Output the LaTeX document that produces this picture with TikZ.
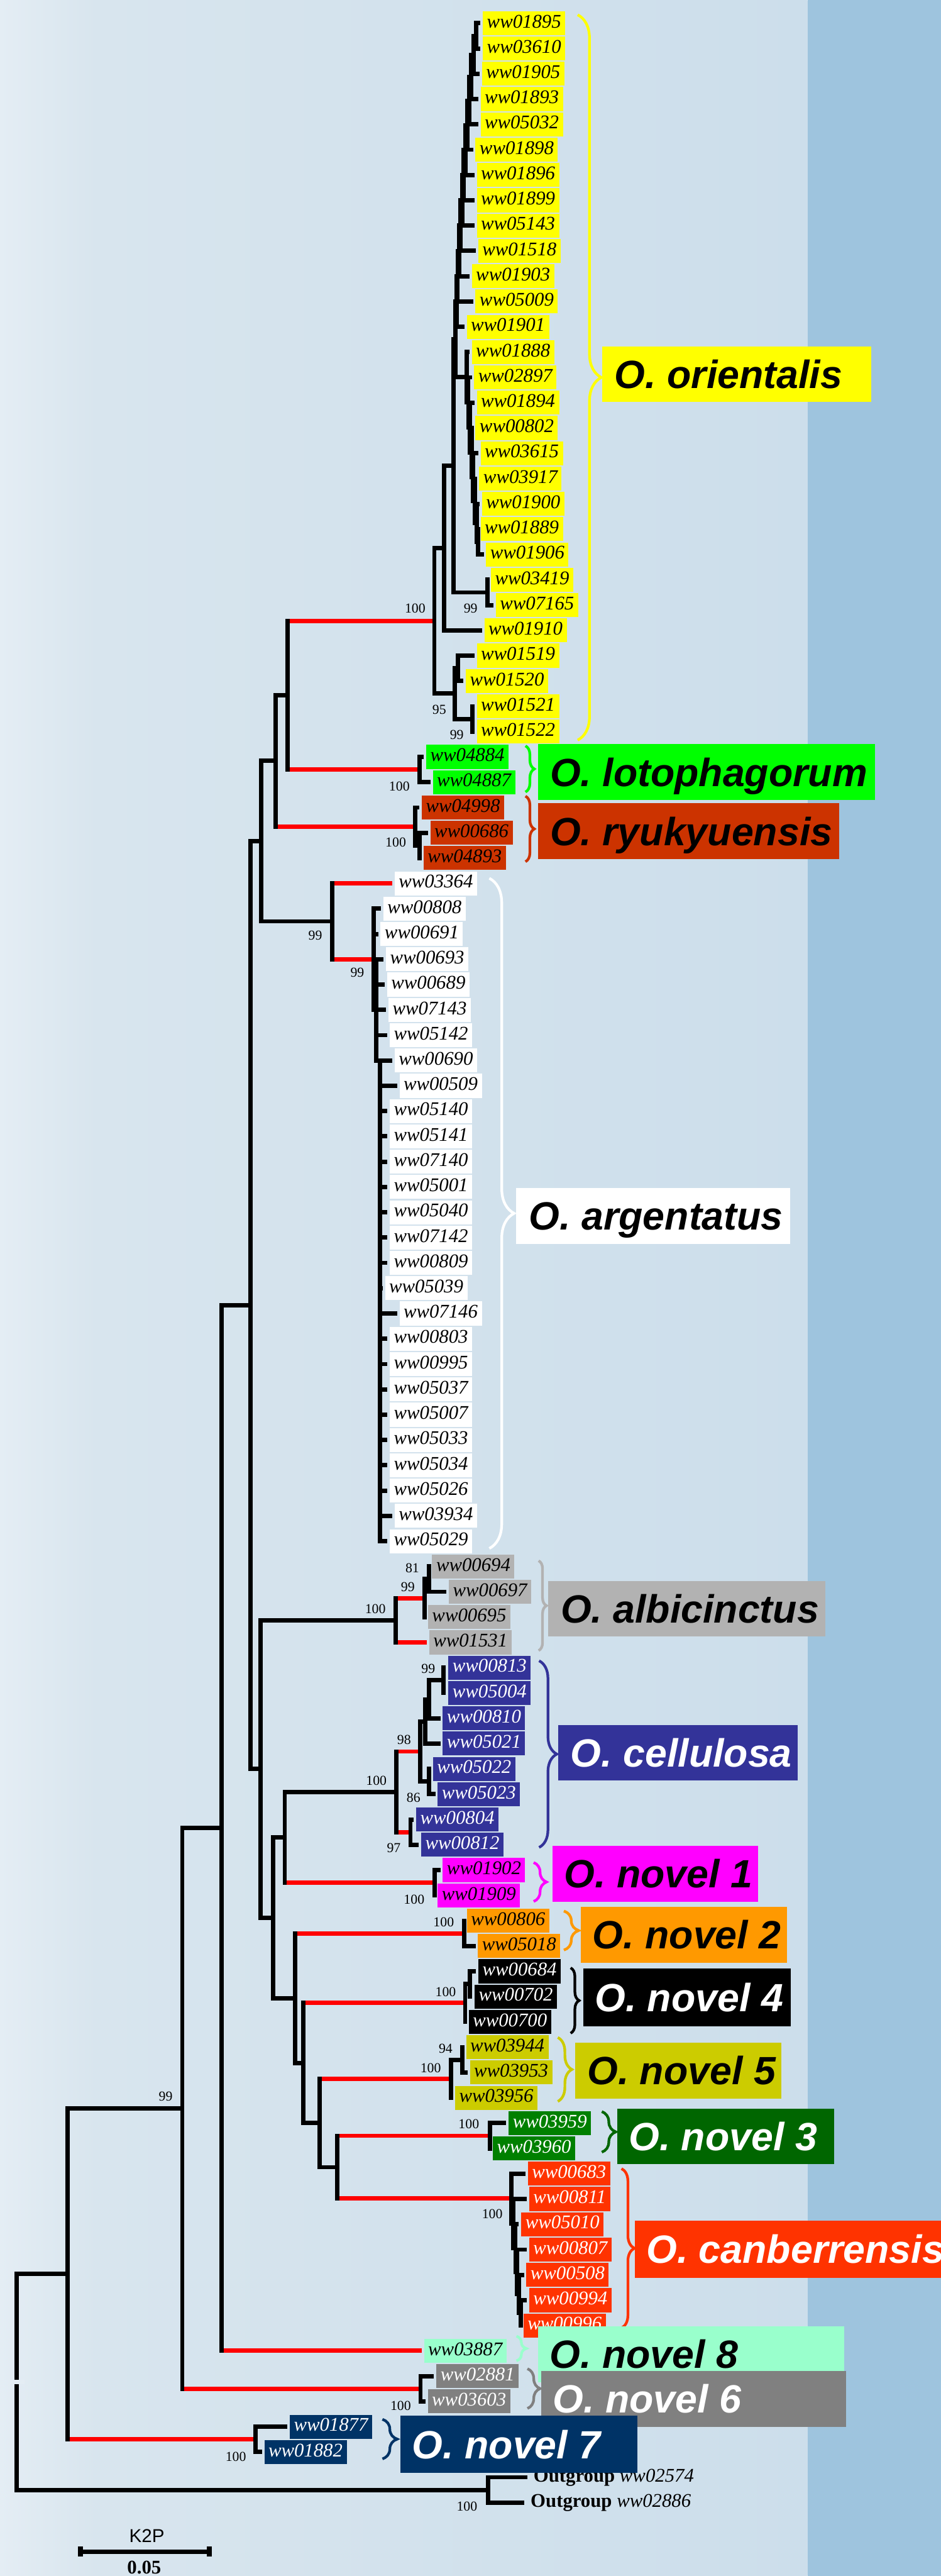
\documentclass[tikz,border=0pt]{standalone}
\usepackage{fontspec}
\setmainfont{Liberation Serif}
\setsansfont{Liberation Sans}
\usetikzlibrary{calc,decorations.pathreplacing}

\definecolor{bgA}{RGB}{228,237,244}
\definecolor{bgB}{RGB}{216,229,238}
\definecolor{bgC}{RGB}{204,222,235}
\definecolor{stripc}{RGB}{158,196,222}
\definecolor{brRed}{RGB}{255,0,0}
\definecolor{cOr}{RGB}{255,255,0}
\definecolor{cLo}{RGB}{0,255,0}
\definecolor{cRy}{RGB}{204,51,0}
\definecolor{cAl}{RGB}{178,178,178}
\definecolor{cCe}{RGB}{51,51,153}
\definecolor{cNa}{RGB}{255,0,255}
\definecolor{cNb}{RGB}{255,153,0}
\definecolor{cNe}{RGB}{204,204,0}
\definecolor{cNc}{RGB}{0,102,0}
\definecolor{cNcl}{RGB}{0,128,0}
\definecolor{cCa}{RGB}{255,51,0}
\definecolor{cNh}{RGB}{153,255,204}
\definecolor{cNf}{RGB}{128,128,128}
\definecolor{cNg}{RGB}{0,51,102}

\pgfdeclarehorizontalshading{bgshade}{100bp}{color(0bp)=(bgA); color(25bp)=(bgA); color(31bp)=(bgB); color(75bp)=(bgC); color(100bp)=(bgC)}

% leaf label: row index, box left, specimen number, group style
\newcommand\lf[4]{\node[leaf,#4] (L#1) at (#2,{14.1+15.4*#1}) {ww#3};}
% internal node placed midway between its first and last child
\newcommand\inode[4]{\path let \p1=(#2), \p2=(#3) in coordinate (#1) at ({#4*0.04cm},{0.5*\y1+0.5*\y2});}
\newcommand\xat[3]{\path let \p1=(#3) in coordinate (#1) at ({#2*0.04cm},\y1);}
% horizontal branch to an internal node / to a leaf label
\newcommand\ebr[3][black]{\draw[br,#1] (#2 |- #3) -- (#3);}
\newcommand\elf[3][black]{\draw[br,#1,shorten >=0.052cm] (#2 |- #3.west) -- (#3.west);}
% vertical bar of a node
\newcommand\vbr[3]{\draw[br,line cap=rect] (#1 |- #2) -- (#1 |- #3);}
% clade brace: x, top, bottom, amplitude, colour
\newcommand\brc[5]{\draw[brcl,draw=#5,decoration={brace,amplitude=#4}] (#1,#2) -- (#1,#3);}
% species box and its caption
\newcommand\spc[9]{%
  \node[spbox,fill=#6,minimum width=#4,minimum height=#5] (#1-box) at (#2,#3) {};
  \node[sptext,text=#7] (#1) at ({#2+#8},{#3+8.6}) {#9};}

\begin{document}
\begin{tikzpicture}[x=0.04cm,y=-0.04cm,
  br/.style={line width=0.105cm},
  brcl/.style={decorate,line width=0.065cm},
  leaf/.style={anchor=west,inner xsep=0.1cm,inner ysep=0pt,minimum height=0.584cm,
    text height=9.2pt,text depth=2.9pt,font=\fontsize{13.4}{15}\selectfont\itshape},
  gOr/.style={fill=cOr},
  gLo/.style={fill=cLo},
  gRy/.style={fill=cRy},
  gAr/.style={fill=white},
  gAl/.style={fill=cAl},
  gCe/.style={fill=cCe,text=white},
  gNa/.style={fill=cNa},
  gNb/.style={fill=cNb},
  gNd/.style={fill=black,text=white},
  gNe/.style={fill=cNe},
  gNc/.style={fill=cNcl,text=white},
  gCa/.style={fill=cCa,text=white},
  gNh/.style={fill=cNh},
  gNf/.style={fill=cNf,text=white},
  gNg/.style={fill=cNg,text=white},
  boot/.style={inner sep=0pt,font=\fontsize{9.5}{10}\selectfont},
  spbox/.style={anchor=west,inner sep=0pt},
  sptext/.style={anchor=base west,inner sep=0pt,font=\sffamily\bfseries\itshape\fontsize{27.3}{30}\selectfont}]

\useasboundingbox (0,0) rectangle (573,1568);
\clip (0,0) rectangle (573,1568);

% background
\shade[shading=bgshade] (0,0) rectangle (491.8,1568);
\fill[stripc] (491.8,0) rectangle (573,1568);

% ---------------- leaf labels ----------------
\lf{0}{293.9}{01895}{gOr}
\lf{1}{293.9}{03610}{gOr}
\lf{2}{293.4}{01905}{gOr}
\lf{3}{292.5}{01893}{gOr}
\lf{4}{292.5}{05032}{gOr}
\lf{5}{289.4}{01898}{gOr}
\lf{6}{290.2}{01896}{gOr}
\lf{7}{290.2}{01899}{gOr}
\lf{8}{290.2}{05143}{gOr}
\lf{9}{291.1}{01518}{gOr}
\lf{10}{287.2}{01903}{gOr}
\lf{11}{289.4}{05009}{gOr}
\lf{12}{284.1}{01901}{gOr}
\lf{13}{287.2}{01888}{gOr}
\lf{14}{288.6}{02897}{gOr}
\lf{15}{290.2}{01894}{gOr}
\lf{16}{289.4}{00802}{gOr}
\lf{17}{292.5}{03615}{gOr}
\lf{18}{291.7}{03917}{gOr}
\lf{19}{293.4}{01900}{gOr}
\lf{20}{292.5}{01889}{gOr}
\lf{21}{295.9}{01906}{gOr}
\lf{22}{298.8}{03419}{gOr}
\lf{23}{301.8}{07165}{gOr}
\lf{24}{294.8}{01910}{gOr}
\lf{25}{290.2}{01519}{gOr}
\lf{26}{283.5}{01520}{gOr}
\lf{27}{290.2}{01521}{gOr}
\lf{28}{290.2}{01522}{gOr}
\lf{29}{259.4}{04884}{gLo}
\lf{30}{263.4}{04887}{gLo}
\lf{31}{256.7}{04998}{gRy}
\lf{32}{261.9}{00686}{gRy}
\lf{33}{257.8}{04893}{gRy}
\lf{34}{240.2}{03364}{gAr}
\lf{35}{233.3}{00808}{gAr}
\lf{36}{231.6}{00691}{gAr}
\lf{37}{234.9}{00693}{gAr}
\lf{38}{235.6}{00689}{gAr}
\lf{39}{236.4}{07143}{gAr}
\lf{40}{237.2}{05142}{gAr}
\lf{41}{240.2}{00690}{gAr}
\lf{42}{243.1}{00509}{gAr}
\lf{43}{237.2}{05140}{gAr}
\lf{44}{237.2}{05141}{gAr}
\lf{45}{237.2}{07140}{gAr}
\lf{46}{237.2}{05001}{gAr}
\lf{47}{237.2}{05040}{gAr}
\lf{48}{237.2}{07142}{gAr}
\lf{49}{237.2}{00809}{gAr}
\lf{50}{234.3}{05039}{gAr}
\lf{51}{243.1}{07146}{gAr}
\lf{52}{237.2}{00803}{gAr}
\lf{53}{237.2}{00995}{gAr}
\lf{54}{237.2}{05037}{gAr}
\lf{55}{237.2}{05007}{gAr}
\lf{56}{237.2}{05033}{gAr}
\lf{57}{237.2}{05034}{gAr}
\lf{58}{237.2}{05026}{gAr}
\lf{59}{240.2}{03934}{gAr}
\lf{60}{237.2}{05029}{gAr}
\lf{61}{263.0}{00694}{gAl}
\lf{62}{273.2}{00697}{gAl}
\lf{63}{260.5}{00695}{gAl}
\lf{64}{261.2}{01531}{gAl}
\lf{65}{272.9}{00813}{gCe}
\lf{66}{272.9}{05004}{gCe}
\lf{67}{269.5}{00810}{gCe}
\lf{68}{269.5}{05021}{gCe}
\lf{69}{263.5}{05022}{gCe}
\lf{70}{266.4}{05023}{gCe}
\lf{71}{253.3}{00804}{gCe}
\lf{72}{256.3}{00812}{gCe}
\lf{73}{269.5}{01902}{gNa}
\lf{74}{266.4}{01909}{gNa}
\lf{75}{284.2}{00806}{gNb}
\lf{76}{290.9}{05018}{gNb}
\lf{77}{291.2}{00684}{gNd}
\lf{78}{288.9}{00702}{gNd}
\lf{79}{285.3}{00700}{gNd}
\lf{80}{283.7}{03944}{gNe}
\lf{81}{286.0}{03953}{gNe}
\lf{82}{277.0}{03956}{gNe}
\lf{83}{309.6}{03959}{gNc}
\lf{84}{300.0}{03960}{gNc}
\lf{85}{321.3}{00683}{gCa}
\lf{86}{322.1}{00811}{gCa}
\lf{87}{317.3}{05010}{gCa}
\lf{88}{322.1}{00807}{gCa}
\lf{89}{320.4}{00508}{gCa}
\lf{90}{322.1}{00994}{gCa}
\lf{91}{318.6}{00996}{gCa}
\lf{92}{258.1}{03887}{gNh}
\lf{93}{265.6}{02881}{gNf}
\lf{94}{260.4}{03603}{gNf}
\lf{95}{176.3}{01877}{gNg}
\lf{96}{160.8}{01882}{gNg}
\node[leaf] (L97) at (322.3,{14.1+15.4*97}) {\textbf{\upshape Outgroup} ww02574};
\node[leaf] (L98) at (320.5,{14.1+15.4*98}) {\textbf{\upshape Outgroup} ww02886};

% ---------------- internal nodes ----------------
% O. orientalis
\inode{t1}{L0}{L1}{290.0}
\inode{t2}{t1}{L2}{288.5}
\inode{t3}{t2}{L3}{287.0}
\inode{t4}{t3}{L4}{285.8}
\inode{t5}{t4}{L5}{284.6}
\inode{t6}{t5}{L6}{283.4}
\inode{t7}{t6}{L7}{282.4}
\inode{t8}{t7}{L8}{281.4}
\inode{t9}{t8}{L9}{280.4}
\inode{t10}{t9}{L10}{279.5}
\inode{t11}{t10}{L11}{278.7}
\inode{t12}{t11}{L12}{278.0}
\inode{b8}{L20}{L21}{291.2}
\inode{b7}{L19}{b8}{290.2}
\inode{b6}{L18}{b7}{289.2}
\inode{b5}{L17}{b6}{288.2}
\inode{b4}{L16}{b5}{287.2}
\inode{b3}{L15}{b4}{286.2}
\inode{b2}{L14}{b3}{285.2}
\inode{b1}{L13}{b2}{284.1}
\inode{C}{t12}{b1}{277.2}
\inode{W}{L22}{L23}{296.8}
\inode{V}{C}{W}{276.3}
\inode{U}{V}{L24}{270.3}
\inode{pA}{L25}{L26}{279.0}
\inode{pB}{L27}{L28}{287.7}
\inode{oS}{pA}{pB}{277.1}
\inode{O}{U}{oS}{264.5}
% O. lotophagorum, O. ryukyuensis
\inode{LO}{L29}{L30}{255.6}
\inode{RYa}{L32}{L33}{255.6}
\inode{RY}{L31}{RYa}{252.7}
\inode{P1}{O}{LO}{175.2}
\inode{P2}{P1}{RY}{167.8}
% O. argentatus
\inode{A3}{L37}{L41}{229.0}
\xat{A4}{231.5}{L41}
\inode{A2}{L35}{A3}{227.7}
\inode{A}{L34}{A2}{202.4}
\inode{P3}{P2}{A}{159.0}
% O. albicinctus
\inode{Alb3}{L61}{L62}{261.2}
\inode{Alb2}{Alb3}{L63}{258.5}
\inode{Alb}{Alb2}{L64}{241.0}
% O. cellulosa
\inode{Cel5}{L65}{L66}{270.2}
\inode{Cel4}{Cel5}{L67}{261.2}
\inode{Cel3}{Cel4}{L68}{259.0}
\inode{Cel6}{L69}{L70}{261.2}
\inode{Cel2}{Cel3}{Cel6}{256.0}
\inode{Cel7}{L71}{L72}{250.0}
\inode{Cel}{Cel2}{Cel7}{241.4}
\inode{N1}{L73}{L74}{264.6}
\inode{NC}{Cel}{N1}{173.4}
% novel lineages and O. canberrensis
\inode{N2}{L75}{L76}{282.6}
\inode{N4a}{L77}{L78}{286.0}
\inode{N4}{N4a}{L79}{283.3}
\inode{N5a}{L80}{L81}{281.5}
\inode{N5}{N5a}{L82}{274.7}
\inode{N3}{L83}{L84}{298.4}
\inode{CB6}{L90}{L91}{317.0}
\inode{CB5}{L89}{CB6}{316.0}
\inode{CB4}{L88}{CB5}{315.0}
\inode{CB3}{L87}{CB4}{313.9}
\inode{CB2}{L86}{CB3}{312.7}
\inode{CB}{L85}{CB2}{311.4}
\inode{Z4}{N3}{CB}{205.4}
\inode{Z3}{N5}{Z4}{194.8}
\inode{Z2}{N4}{Z3}{184.7}
\inode{Z}{N2}{Z2}{179.7}
\inode{Y}{NC}{Z}{166.2}
\inode{X}{Alb}{Y}{158.8}
\inode{K}{P3}{X}{152.7}
\inode{M}{K}{L92}{135.1}
\inode{N6}{L93}{L94}{256.1}
\inode{Q}{M}{N6}{111.0}
\inode{N7}{L95}{L96}{155.7}
\inode{R1}{Q}{N7}{41.2}
\inode{OG}{L97}{L98}{297.2}
\inode{R0}{R1}{OG}{10.3}

% ---------------- horizontal branches ----------------
\elf{t1}{L0}\elf{t1}{L1}
\ebr{t2}{t1}\elf{t2}{L2}
\ebr{t3}{t2}\elf{t3}{L3}
\ebr{t4}{t3}\elf{t4}{L4}
\ebr{t5}{t4}\elf{t5}{L5}
\ebr{t6}{t5}\elf{t6}{L6}
\ebr{t7}{t6}\elf{t7}{L7}
\ebr{t8}{t7}\elf{t8}{L8}
\ebr{t9}{t8}\elf{t9}{L9}
\ebr{t10}{t9}\elf{t10}{L10}
\ebr{t11}{t10}\elf{t11}{L11}
\ebr{t12}{t11}\elf{t12}{L12}
\elf{b8}{L20}\elf{b8}{L21}
\elf{b7}{L19}\ebr{b7}{b8}
\elf{b6}{L18}\ebr{b6}{b7}
\elf{b5}{L17}\ebr{b5}{b6}
\elf{b4}{L16}\ebr{b4}{b5}
\elf{b3}{L15}\ebr{b3}{b4}
\elf{b2}{L14}\ebr{b2}{b3}
\elf{b1}{L13}\ebr{b1}{b2}
\ebr{C}{t12}\ebr{C}{b1}
\elf{W}{L22}\elf{W}{L23}
\ebr{V}{C}\ebr{V}{W}
\ebr{U}{V}\elf{U}{L24}
\elf{pA}{L25}\elf{pA}{L26}
\elf{pB}{L27}\elf{pB}{L28}
\ebr{oS}{pA}\ebr{oS}{pB}
\ebr{O}{U}\ebr{O}{oS}
\elf{LO}{L29}\elf{LO}{L30}
\elf{RYa}{L32}\elf{RYa}{L33}
\elf{RY}{L31}\ebr{RY}{RYa}
\ebr[brRed]{P1}{O}\ebr[brRed]{P1}{LO}
\ebr{P2}{P1}\ebr[brRed]{P2}{RY}
\elf{A3}{L37}\elf{A3}{L38}\elf{A3}{L39}\elf{A3}{L40}\elf{A3}{L41}
\foreach \i in {42,...,60} {\elf{A4}{L\i}}
\elf{A2}{L35}\elf{A2}{L36}\ebr{A2}{A3}
\elf[brRed]{A}{L34}\ebr[brRed]{A}{A2}
\ebr{P3}{P2}\ebr{P3}{A}
\elf{Alb3}{L61}\elf{Alb3}{L62}
\ebr{Alb2}{Alb3}\elf{Alb2}{L63}
\ebr[brRed]{Alb}{Alb2}\elf[brRed]{Alb}{L64}
\elf{Cel5}{L65}\elf{Cel5}{L66}
\ebr{Cel4}{Cel5}\elf{Cel4}{L67}
\ebr{Cel3}{Cel4}\elf{Cel3}{L68}
\elf{Cel6}{L69}\elf{Cel6}{L70}
\ebr{Cel2}{Cel3}\ebr{Cel2}{Cel6}
\elf{Cel7}{L71}\elf{Cel7}{L72}
\ebr[brRed]{Cel}{Cel2}\ebr[brRed]{Cel}{Cel7}
\elf{N1}{L73}\elf{N1}{L74}
\ebr{NC}{Cel}\ebr[brRed]{NC}{N1}
\elf{N2}{L75}\elf{N2}{L76}
\elf{N4a}{L77}\elf{N4a}{L78}
\ebr{N4}{N4a}\elf{N4}{L79}
\elf{N5a}{L80}\elf{N5a}{L81}
\ebr{N5}{N5a}\elf{N5}{L82}
\elf{N3}{L83}\elf{N3}{L84}
\elf{CB6}{L90}\elf{CB6}{L91}
\elf{CB5}{L89}\ebr{CB5}{CB6}
\elf{CB4}{L88}\ebr{CB4}{CB5}
\elf{CB3}{L87}\ebr{CB3}{CB4}
\elf{CB2}{L86}\ebr{CB2}{CB3}
\elf{CB}{L85}\ebr{CB}{CB2}
\ebr[brRed]{Z4}{N3}\ebr[brRed]{Z4}{CB}
\ebr[brRed]{Z3}{N5}\ebr{Z3}{Z4}
\ebr[brRed]{Z2}{N4}\ebr{Z2}{Z3}
\ebr[brRed]{Z}{N2}\ebr{Z}{Z2}
\ebr{Y}{NC}\ebr{Y}{Z}
\ebr{X}{Alb}\ebr{X}{Y}
\ebr{K}{P3}\ebr{K}{X}
\ebr{M}{K}\elf[brRed]{M}{L92}
\elf{N6}{L93}\elf{N6}{L94}
\ebr{Q}{M}\ebr[brRed]{Q}{N6}
\elf{N7}{L95}\elf{N7}{L96}
\ebr{R1}{Q}\ebr[brRed]{R1}{N7}
\elf{OG}{L97}\elf{OG}{L98}
\ebr{R0}{R1}\ebr{R0}{OG}

% ---------------- vertical bars ----------------
\vbr{t1}{L0}{L1}\vbr{t2}{t1}{L2}\vbr{t3}{t2}{L3}\vbr{t4}{t3}{L4}
\vbr{t5}{t4}{L5}\vbr{t6}{t5}{L6}\vbr{t7}{t6}{L7}\vbr{t8}{t7}{L8}
\vbr{t9}{t8}{L9}\vbr{t10}{t9}{L10}\vbr{t11}{t10}{L11}\vbr{t12}{t11}{L12}
\vbr{b8}{L20}{L21}\vbr{b7}{L19}{b8}\vbr{b6}{L18}{b7}\vbr{b5}{L17}{b6}
\vbr{b4}{L16}{b5}\vbr{b3}{L15}{b4}\vbr{b2}{L14}{b3}\vbr{b1}{L13}{b2}
\vbr{C}{t12}{b1}\vbr{W}{L22}{L23}\vbr{V}{C}{W}\vbr{U}{V}{L24}
\vbr{pA}{L25}{L26}\vbr{pB}{L27}{L28}\vbr{oS}{pA}{pB}\vbr{O}{U}{oS}
\vbr{LO}{L29}{L30}\vbr{RYa}{L32}{L33}\vbr{RY}{L31}{RYa}
\vbr{P1}{O}{LO}\vbr{P2}{P1}{RY}
\vbr{A3}{L37}{L41}\vbr{A4}{A4}{L60}\vbr{A2}{L35}{A3}\vbr{A}{L34}{A2}\vbr{P3}{P2}{A}
\vbr{Alb3}{L61}{L62}\vbr{Alb2}{Alb3}{L63}\vbr{Alb}{Alb2}{L64}
\vbr{Cel5}{L65}{L66}\vbr{Cel4}{Cel5}{L67}\vbr{Cel3}{Cel4}{L68}\vbr{Cel6}{L69}{L70}
\vbr{Cel2}{Cel3}{Cel6}\vbr{Cel7}{L71}{L72}\vbr{Cel}{Cel2}{Cel7}
\vbr{N1}{L73}{L74}\vbr{NC}{Cel}{N1}
\vbr{N2}{L75}{L76}\vbr{N4a}{L77}{L78}\vbr{N4}{N4a}{L79}
\vbr{N5a}{L80}{L81}\vbr{N5}{N5a}{L82}\vbr{N3}{L83}{L84}
\vbr{CB6}{L90}{L91}\vbr{CB5}{L89}{CB6}\vbr{CB4}{L88}{CB5}
\vbr{CB3}{L87}{CB4}\vbr{CB2}{L86}{CB3}\vbr{CB}{L85}{CB2}
\vbr{Z4}{N3}{CB}\vbr{Z3}{N5}{Z4}\vbr{Z2}{N4}{Z3}\vbr{Z}{N2}{Z2}
\vbr{Y}{NC}{Z}\vbr{X}{Alb}{Y}\vbr{K}{P3}{X}\vbr{M}{K}{L92}
\vbr{N6}{L93}{L94}\vbr{Q}{M}{N6}\vbr{N7}{L95}{L96}\vbr{R1}{Q}{N7}
\vbr{OG}{L97}{L98}\vbr{R0}{R1}{OG}
% small break in the root line
\fill[bgA] (6,1448.4) rectangle (15,1451.4);

% ---------------- bootstrap support ----------------
\node[boot] (bO) at (252.8,370.2) {100};
\node[boot] (bW) at (286.6,370.2) {99};
\node[boot] (boS) at (267.5,432.1) {95};
\node[boot] (bpB) at (278.2,447.4) {99};
\node[boot] (bLO) at (243.2,478.5) {100};
\node[boot] (bRY) at (241.0,512.9) {100};
\node[boot] (bA) at (192.0,569.3) {99};
\node[boot] (bA2) at (217.6,592.0) {99};
\node[boot] (bAlb3) at (251.1,954.6) {81};
\node[boot] (bAlb2) at (248.4,966.1) {99};
\node[boot] (bAlb) at (228.6,979.2) {100};
\node[boot] (bCel5) at (260.8,1015.7) {99};
\node[boot] (bCel2) at (246.1,1058.9) {98};
\node[boot] (bCel) at (229.2,1083.8) {100};
\node[boot] (bCel6) at (251.8,1094.3) {86};
\node[boot] (bCel7) at (239.8,1125.0) {97};
\node[boot] (bN1) at (252.2,1156.3) {100};
\node[boot] (bN2) at (270.2,1170.1) {100};
\node[boot] (bN4) at (271.4,1212.6) {100};
\node[boot] (bN5a) at (271.4,1247.1) {94};
\node[boot] (bN5) at (262.3,1258.7) {100};
\node[boot] (bN3) at (285.5,1293.0) {100};
\node[boot] (bCB) at (299.8,1347.7) {100};
\node[boot] (bQ) at (100.9,1276.1) {99};
\node[boot] (bN6) at (244.0,1464.3) {100};
\node[boot] (bN7) at (143.6,1495.2) {100};
\node[boot] (bOG) at (284.4,1525.6) {100};

% ---------------- clade braces ----------------
\brc{351.8}{9}{450.5}{0.576cm}{cOr}
\brc{320}{454}{482.1}{0.216cm}{cLo}
\brc{320}{484.6}{524.5}{0.216cm}{cRy}
\brc{298}{534.6}{942.5}{0.604cm}{white}
\brc{328}{950}{1004.7}{0.192cm}{cAl}
\brc{328.3}{1010.9}{1124.5}{0.432cm}{cCe}
\brc{325}{1133.7}{1157.4}{0.312cm}{cNa}
\brc{343.4}{1163.2}{1187}{0.36cm}{cNb}
\brc{347.5}{1197.8}{1237.6}{0.208cm}{black}
\brc{339.7}{1240.2}{1279.1}{0.344cm}{cNe}
\brc{366.5}{1285.3}{1310}{0.34cm}{cNc}
\brc{378.5}{1320}{1417}{0.312cm}{cCa}
\brc{314.5}{1422}{1437}{0.24cm}{cNh}
\brc{321.2}{1441.8}{1466}{0.308cm}{cNf}
\brc{232.9}{1472.6}{1496.7}{0.36cm}{cNg}

% ---------------- species names ----------------
\spc{spOr}{366.7}{227.8}{6.552cm}{1.348cm}{cOr}{black}{7.5}{O. orientalis}
\spc{spLo}{327.6}{470}{8.204cm}{1.36cm}{cLo}{black}{7.2}{O. lotophagorum}
\spc{spRy}{327.6}{506}{7.336cm}{1.36cm}{cRy}{black}{7.2}{O. ryukyuensis}
\spc{spAr}{314}{740}{6.68cm}{1.36cm}{white}{black}{8.1}{O. argentatus}
\spc{spAl}{333.8}{979.1}{6.744cm}{1.352cm}{cAl}{black}{7.5}{O. albicinctus}
\spc{spCe}{339.9}{1066.9}{5.82cm}{1.356cm}{cCe}{white}{7.5}{O. cellulosa}
\spc{spNa}{336.3}{1140.5}{5.012cm}{1.36cm}{cNa}{black}{7.2}{O. novel 1}
\spc{spNb}{353.5}{1177.6}{5.02cm}{1.36cm}{cNb}{black}{7.3}{O. novel 2}
\spc{spNd}{354.9}{1215.8}{5.056cm}{1.4cm}{black}{white}{7.2}{O. novel 4}
\spc{spNe}{350.2}{1260.4}{5.024cm}{1.36cm}{cNe}{black}{7.3}{O. novel 5}
\spc{spNc}{375.6}{1300.4}{5.288cm}{1.348cm}{cNc}{white}{7.2}{O. novel 3}
\spc{spCa}{386.3}{1369.1}{9.2cm}{1.392cm}{cCa}{white}{7.2}{O. canberrensis}
\spc{spNh}{327.6}{1433}{7.456cm}{1.36cm}{cNh}{black}{7}{O. novel 8}
\spc{spNf}{329.4}{1460.2}{7.424cm}{1.352cm}{cNf}{white}{7.2}{O. novel 6}
\spc{spNg}{243.5}{1487.8}{5.784cm}{1.38cm}{cNg}{white}{7.4}{O. novel 7}

% ---------------- scale bar ----------------
\coordinate (sbL) at (48.9,1553.1);
\coordinate (sbR) at (127.4,1553.1);
\draw[line width=0.11cm] (sbL) -- (sbR);
\draw[line width=0.12cm] ($(sbL)+(0,-3)$) -- ($(sbL)+(0,3)$);
\draw[line width=0.12cm] ($(sbR)+(0,-3)$) -- ($(sbR)+(0,3)$);
\node[inner sep=0pt,font=\sffamily\fontsize{12.9}{14}\selectfont] (k2p) at (89.4,1543.6) {K2P};
\node[inner sep=0pt,font=\bfseries\fontsize{13.4}{14}\selectfont] (sbval) at (87.8,1562.7) {0.05};
\end{tikzpicture}
\end{document}
